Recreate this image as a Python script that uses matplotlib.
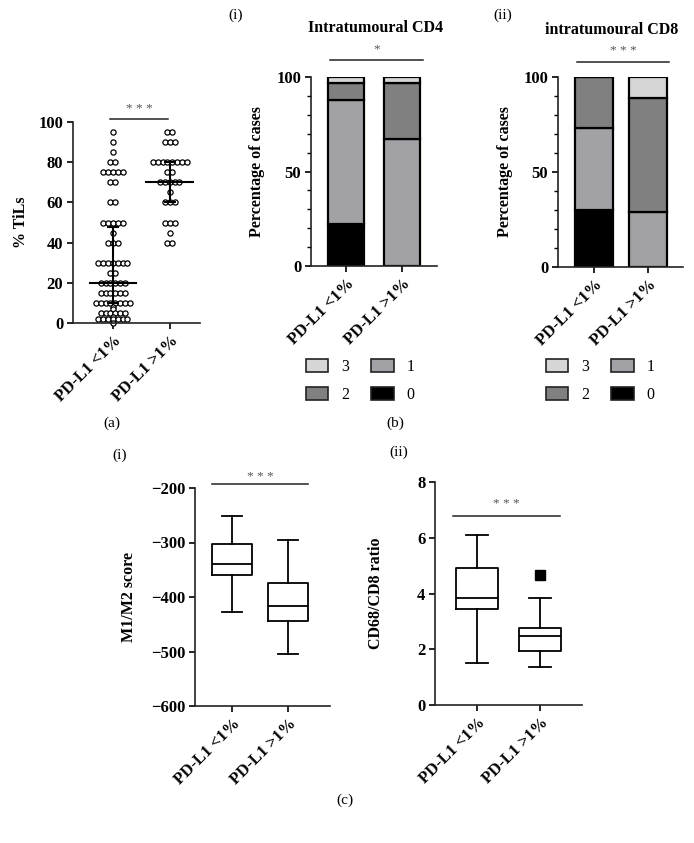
import numpy as np
import matplotlib
matplotlib.use("Agg")
import matplotlib.pyplot as plt
from matplotlib.patches import Patch

plt.rcParams['font.family'] = ['Liberation Serif', 'DejaVu Serif']

W, H = 694, 843

# ---------------- DATA ----------------
groups = ["PD-L1 <1%", "PD-L1 >1%"]

# (a) % TILs: value -> count
tils_low_vals   = [95, 90, 85, 80, 75, 70, 60, 50, 45, 40, 30, 25, 20, 15, 10, 8, 7, 5, 3, 2, 0]
tils_low_counts = [1, 1, 1, 2, 5, 2, 2, 5, 1, 3, 7, 2, 6, 6, 8, 1, 1, 6, 1, 7, 1]
tils_high_vals   = [95, 90, 80, 75, 70, 65, 60, 50, 45, 40]
tils_high_counts = [2, 3, 8, 2, 5, 1, 3, 3, 1, 2]
tils_median = [20, 70]
tils_q1 = [10, 60]
tils_q3 = [48, 80]

# (b) stacked percentages, score levels 0..3
score_levels = ["0", "1", "2", "3"]
cd4_pct = {"0": [22, 0], "1": [66, 67], "2": [9, 30], "3": [3, 3]}
cd8_pct = {"0": [30, 0], "1": [43, 29], "2": [27, 60], "3": [0, 11]}
score_colors = {"0": "#000000", "1": "#a2a2a6", "2": "#808080", "3": "#d6d6d6"}

# (c) box plot stats
m1m2_whislo = [-427, -505]
m1m2_q1     = [-360, -444]
m1m2_med    = [-340, -416]
m1m2_q3     = [-303, -375]
m1m2_whishi = [-252, -295]

ratio_whislo = [1.52, 1.35]
ratio_q1     = [3.45, 1.93]
ratio_med    = [3.85, 2.47]
ratio_q3     = [4.92, 2.78]
ratio_whishi = [6.10, 3.83]
ratio_fliers = [[], [4.68]]

# ---------------- LAYOUT HELPERS ----------------
fig = plt.figure(figsize=(W / 100, H / 100), dpi=100)


def add_ax(x0, x1, ytop, ybot):
    return fig.add_axes([x0 / W, 1 - ybot / H, (x1 - x0) / W, (ybot - ytop) / H])


def ftext(x, y, s, **kw):
    fig.text(x / W, 1 - y / H, s, **kw)


TICKFS = 12
LABFS = 11.5
PANELFS = 11


def style(ax):
    for s in ["top", "right"]:
        ax.spines[s].set_visible(False)
    for s in ["left", "bottom"]:
        ax.spines[s].set_linewidth(1.2)
        ax.spines[s].set_color("#222222")
    ax.tick_params(axis="both", direction="out", length=4, width=1.2, labelsize=TICKFS, pad=3)
    for lab in ax.get_yticklabels():
        lab.set_fontweight("bold")
    ax.set_xticks([0, 1])
    ax.set_xticklabels(groups, rotation=45, ha="right", va="top", rotation_mode="anchor",
                       fontweight="bold", fontsize=TICKFS)


def sig(ax, x0, x1, yline, ystar, s):
    ax.plot([x0, x1], [yline, yline], color="#222222", lw=1.1, clip_on=False)
    ax.text((x0 + x1) / 2, ystar, s, ha="center", va="center", fontsize=9.5, color="#555555")


# ---------------- (a) ----------------
axa = add_ax(73, 200, 122, 323)
spacing = 0.085
for gi, (vals, cnts) in enumerate([(tils_low_vals, tils_low_counts), (tils_high_vals, tils_high_counts)]):
    xs, ys = [], []
    for v, c in zip(vals, cnts):
        off = (np.arange(c) - (c - 1) / 2) * spacing
        xs.extend(gi + off)
        ys.extend([v] * c)
    axa.scatter(xs, ys, s=14, facecolors="white", edgecolors="black", linewidths=0.9,
                zorder=2, clip_on=False)
for gi in range(2):
    axa.plot([gi - 0.41, gi + 0.41], [tils_median[gi]] * 2, color="black", lw=1.5, zorder=3)
    axa.errorbar(gi, tils_median[gi],
                 yerr=[[tils_median[gi] - tils_q1[gi]], [tils_q3[gi] - tils_median[gi]]],
                 fmt="none", ecolor="black", elinewidth=1.5, capsize=4, capthick=1.5, zorder=3)
axa.set_ylim(0, 100)
axa.set_xlim(-0.70, 1.53)
axa.set_yticks([0, 20, 40, 60, 80, 100])
style(axa)
axa.set_ylabel("% TiLs", fontweight="bold", fontsize=LABFS)
axa.yaxis.set_label_coords(-0.35, 0.5)
sig(axa, -0.05, 0.97, 101.5, 106.5, "* * *")
ftext(112, 423, "(a)", ha="center", va="center", fontsize=PANELFS)

# ---------------- (b) ----------------
def stacked(ax, pct, width):
    bottom = np.zeros(2)
    for lev in score_levels:
        vals = np.array(pct[lev], dtype=float)
        ax.bar([0, 1], vals, width, bottom=bottom, color=score_colors[lev],
               edgecolor="black", linewidth=1.6, zorder=2)
        bottom += vals
    ax.set_ylim(0, 100)
    ax.set_yticks([0, 50, 100])
    ax.set_yticks(np.arange(0, 101, 10), minor=True)
    style(ax)
    ax.tick_params(axis="y", which="minor", length=3, width=1.0)
    ax.set_ylabel("Percentage of cases", fontweight="bold", fontsize=LABFS)


axb1 = add_ax(311, 437, 77, 266)
stacked(axb1, cd4_pct, 0.66)
axb1.set_xlim(-0.625, 1.625)
axb1.yaxis.set_label_coords(-0.365, 0.5)
sig(axb1, -0.29, 1.375, 109, 114.5, "*")
ftext(375, 28, "Intratumoural CD4", ha="center", va="center", fontsize=11.5, fontweight="bold")
ftext(236, 15, "(i)", ha="center", va="center", fontsize=PANELFS)

axb2 = add_ax(558, 683, 77, 267)
stacked(axb2, cd8_pct, 0.69)
axb2.set_xlim(-0.667, 1.65)
axb2.yaxis.set_label_coords(-0.36, 0.5)
sig(axb2, -0.31, 1.39, 108, 113.5, "* * *")
ftext(612, 30, "intratumoural CD8", ha="center", va="center", fontsize=11.5, fontweight="bold")
ftext(503, 15, "(ii)", ha="center", va="center", fontsize=PANELFS)

leg_order = ["3", "2", "1", "0"]
for cx in (360, 600):
    handles = [Patch(facecolor=score_colors[l], edgecolor="#222222", linewidth=1.2, label=l)
               for l in leg_order]
    fig.legend(handles=handles, ncol=2, loc="center", bbox_to_anchor=(cx / W, 1 - 381 / H),
               frameon=False, fontsize=11.5, handlelength=1.4, handleheight=0.8,
               columnspacing=1.4, labelspacing=0.75, handletextpad=0.8)
ftext(395, 423, "(b)", ha="center", va="center", fontsize=PANELFS)

# ---------------- (c) ----------------
def boxes(ax, lo, q1, med, q3, hi, fliers, width):
    stats = []
    for i in range(2):
        stats.append(dict(whislo=lo[i], q1=q1[i], med=med[i], q3=q3[i], whishi=hi[i],
                          fliers=fliers[i] if fliers else []))
    ax.bxp(stats, positions=[0, 1], widths=width, showfliers=True,
           boxprops=dict(color="black", linewidth=1.3),
           medianprops=dict(color="black", linewidth=1.3),
           whiskerprops=dict(color="black", linewidth=1.3),
           capprops=dict(color="black", linewidth=1.3),
           capwidths=width * 0.5,
           flierprops=dict(marker="s", markerfacecolor="black", markeredgecolor="black",
                           markersize=7))


axc1 = add_ax(195, 330, 488, 706)
boxes(axc1, m1m2_whislo, m1m2_q1, m1m2_med, m1m2_q3, m1m2_whishi, None, 0.72)
axc1.set_ylim(-600, -200)
axc1.set_xlim(-0.66, 1.75)
axc1.set_yticks([-600, -500, -400, -300, -200])
style(axc1)
axc1.set_yticklabels(["\u2212600", "\u2212500", "\u2212400", "\u2212300", "\u2212200"],
                     fontweight="bold")
axc1.set_ylabel("M1/M2 score", fontweight="bold", fontsize=LABFS)
axc1.yaxis.set_label_coords(-0.43, 0.5)
sig(axc1, -0.36, 1.36, -193, -180, "* * *")
ftext(120, 455, "(i)", ha="center", va="center", fontsize=PANELFS)

axc2 = add_ax(435, 582, 482, 705)
boxes(axc2, ratio_whislo, ratio_q1, ratio_med, ratio_q3, ratio_whishi, ratio_fliers, 0.68)
axc2.set_ylim(0, 8)
axc2.set_xlim(-0.667, 1.667)
axc2.set_yticks([0, 2, 4, 6, 8])
style(axc2)
axc2.set_ylabel("CD68/CD8 ratio", fontweight="bold", fontsize=LABFS)
axc2.yaxis.set_label_coords(-0.347, 0.5)
sig(axc2, -0.38, 1.32, 6.78, 7.2, "* * *")
ftext(399, 452, "(ii)", ha="center", va="center", fontsize=PANELFS)

ftext(345, 800, "(c)", ha="center", va="center", fontsize=PANELFS)

fig.savefig("out.png", dpi=100, facecolor="white")
